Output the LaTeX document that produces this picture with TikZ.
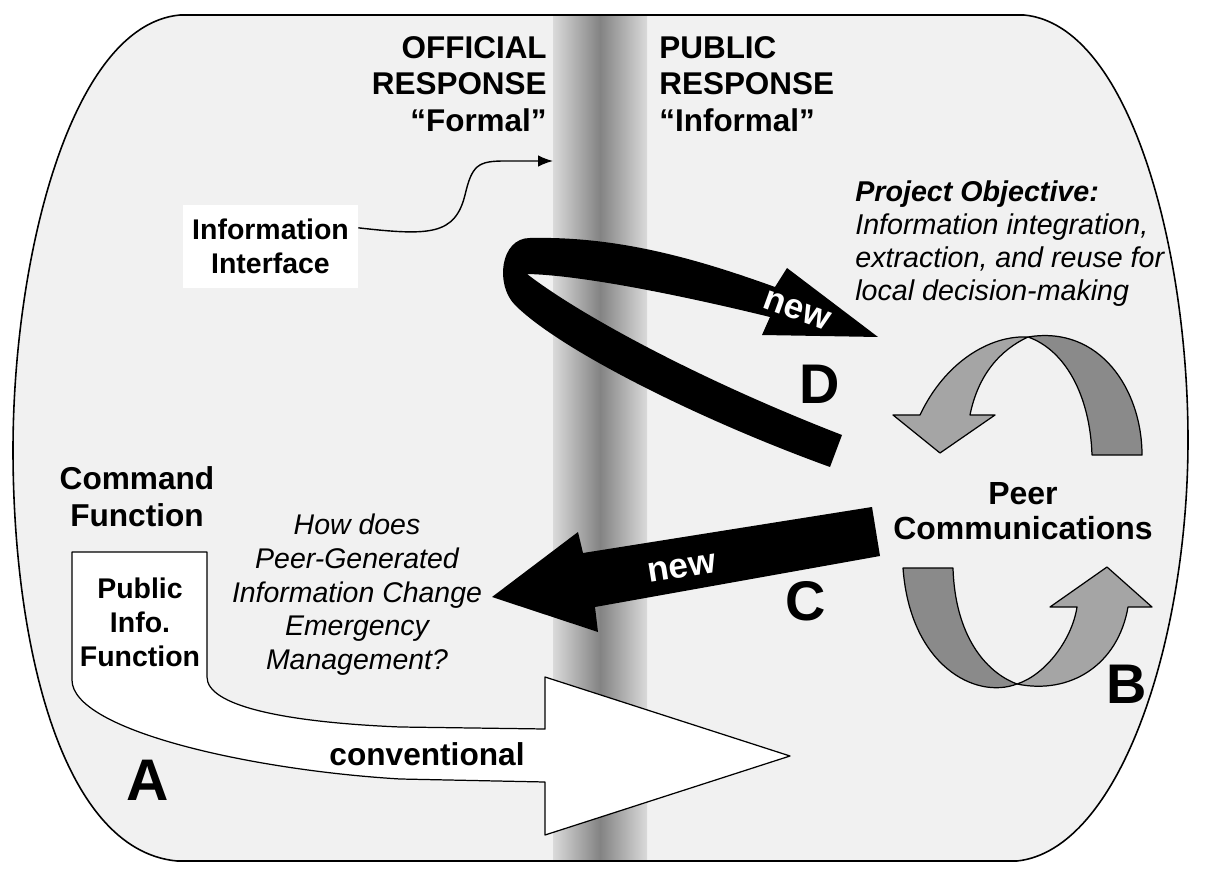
\documentclass[tikz,border=0pt]{standalone}
\usepackage{fontspec}
\setmainfont{Liberation Sans}
\usetikzlibrary{arrows.meta,positioning,shadows}
\definecolor{PanelGray}{HTML}{F1F1F1}
\definecolor{DividerLight}{HTML}{DADADA}
\definecolor{DividerDark}{HTML}{838383}
\definecolor{CycleDark}{HTML}{8A8A8A}
\definecolor{CycleLight}{HTML}{A5A5A5}

\begin{document}
\begin{tikzpicture}[x=0.02cm, y=-0.02cm,
    hdr/.style={inner sep=0pt, font=\fontsize{17.9}{20.8}\selectfont\bfseries},
    plain/.style={inner sep=0pt, align=center, font=\fontsize{16.2}{19.3}\selectfont\bfseries},
    query/.style={inner sep=0pt, font=\fontsize{16.2}{19.1}\selectfont\itshape},
    letter/.style={inner sep=0pt, anchor=base, font=\fontsize{31.8}{36}\selectfont\bfseries},
    newtag/.style={inner sep=0pt, text=white, font=\fontsize{20}{24}\selectfont\bfseries},
    outline/.style={draw=black, line width=0.7pt, line join=round}
  ]
  \useasboundingbox (0,0) rectangle (1217,878);

  % panel and divider
  \path[save path=\panelshape] (180,15) -- (1024,15) .. controls (1130,25) and (1188,250) .. (1188,440)
    .. controls (1188,640) and (1120,850) .. (1017,861) -- (177,861)
    .. controls (60,850) and (13,640) .. (13,450) .. controls (13,260) and (70,25) .. (180,15) -- cycle;
  \path[use path=\panelshape, fill=PanelGray, drop shadow={shadow xshift=1.5pt, shadow yshift=-2.5pt, opacity=0.45}];
  \shade[left color=DividerLight, right color=DividerLight, middle color=DividerDark] (553,15) rectangle (647,861);
  \path[use path=\panelshape, draw=black, line width=0.9pt];

  \node[hdr, anchor=north east, align=right] (official) at (547,36) {OFFICIAL\\RESPONSE\\“Formal”};
  \node[hdr, anchor=north west, align=left] (public) at (659,36) {PUBLIC\\RESPONSE\\“Informal”};

  \node[plain, fill=white, minimum width=3.5cm, minimum height=1.66cm] (iface) at (270.5,246.5) {Information\\Interface};
  \coordinate (divider) at (553,161);
  \draw[line width=0.8pt, -{Latex[length=8.5pt, width=6.5pt]}] (iface.12) .. controls (430,236) and (455,235) .. (465,195)
    .. controls (472,165) and (478,161) .. (505,161) -- (divider);

  \node[query, anchor=north west, align=left, font=\fontsize{16.3}{18.8}\selectfont\itshape] (objective) at (855,180)
    {\textbf{Project Objective:}\\Information integration,\\extraction, and reuse for\\local decision-making};

  % D: new loop
  \fill (830,467) .. controls (700,420) and (560,350) .. (515,305) .. controls (495,285) and (500,238) .. (530,238)
    .. controls (620,236) and (700,260) .. (775,287) -- (787,268) -- (878,337) -- (762,335) -- (770,317)
    .. controls (680,295) and (580,275) .. (527,274) .. controls (580,315) and (700,380) .. (842,435) -- cycle;
  \node[newtag, rotate=-20] (newd) at (797,310) {new};
  \node[letter] (letterd) at (820,403) {D};

  % C: new arrow
  \fill (872,507) -- (583,553) -- (578,532) -- (492,597) -- (598,632) -- (595,607) -- (880,556) -- cycle;
  \node[newtag, rotate=9] (newc) at (682,568) {new};
  \node[letter] (letterc) at (806,620) {C};

  % A: conventional arrow
  \draw[outline, fill=white] (72,552) -- (207,552) -- (207,677) .. controls (207,705) and (280,722) .. (400,727)
    -- (545,729) -- (545,677) -- (790,756) -- (545,835) -- (545,782) -- (400,779)
    .. controls (250,770) and (72,730) .. (72,680) -- cycle;
  \node[plain, anchor=north, font=\fontsize{18}{21}\selectfont\bfseries] (command) at (137,466) {Command\\Function};
  \node[plain, anchor=north] (pubinfo) at (140,578) {Public\\Info.\\Function};
  \node[plain, anchor=base, font=\fontsize{18}{21}\selectfont\bfseries] (conv) at (427,765) {conventional};
  \node[letter, font=\fontsize{33.4}{38}\selectfont\bfseries] (lettera) at (148,800) {A};

  \node[query, anchor=north, align=center] (question) at (357,514)
    {How does\\Peer-Generated\\Information Change\\Emergency\\Management?};

  % B: peer cycle
  \draw[outline, fill=CycleDark] (1028,337) .. controls (1100,325) and (1142,390) .. (1142,455) -- (1092,455)
    .. controls (1090,395) and (1065,350) .. (1028,337) -- cycle;
  \draw[outline, fill=CycleLight] (893,415) -- (920,415) .. controls (945,362) and (990,335) .. (1028,337)
    .. controls (1000,350) and (978,375) .. (970,415) -- (995,415) -- (940,453) -- cycle;
  \draw[outline, fill=CycleDark] (903,568) -- (953,568) .. controls (955,635) and (985,672) .. (1017,684)
    .. controls (975,700) and (910,665) .. (903,568) -- cycle;
  \draw[outline, fill=CycleLight] (1017,684) .. controls (1045,675) and (1072,640) .. (1077,607) -- (1050,607)
    -- (1107,567) -- (1152,607) -- (1128,607) .. controls (1118,665) and (1070,695) .. (1017,684) -- cycle;
  \node[plain, anchor=north, font=\fontsize{18.2}{19.9}\selectfont\bfseries] (peer) at (1023,482) {Peer\\Communications};
  \node[letter] (letterb) at (1127,703) {B};
\end{tikzpicture}
\end{document}
